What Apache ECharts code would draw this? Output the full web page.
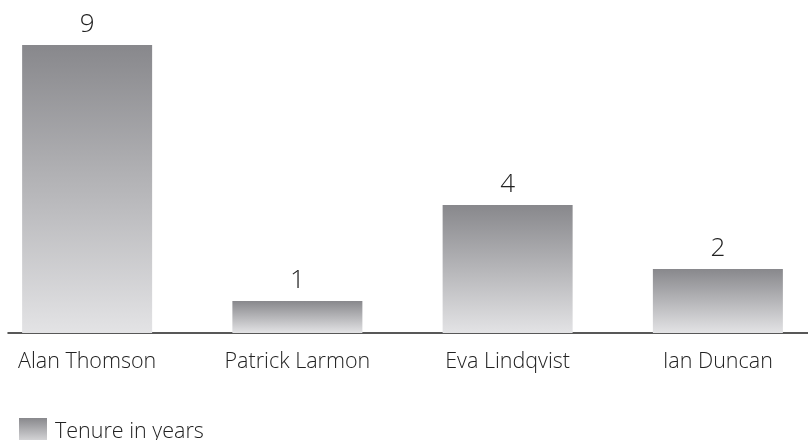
<!DOCTYPE html>
<html><head><meta charset="utf-8">
<script src="https://cdn.jsdelivr.net/npm/echarts@6/dist/echarts.min.js"></script>
<style>html,body{margin:0;padding:0;background:#fff}#c{width:808px;height:440px}</style>
</head><body><div id="c"></div>
<script>
const categories = ["Alan Thomson", "Patrick Larmon", "Eva Lindqvist", "Ian Duncan"];
const tenure = [9, 1, 4, 2];
const seriesName = "Tenure in years";

const chart = echarts.init(document.getElementById('c'), null, {renderer: 'canvas'});
const font = '"Open Sans", sans-serif';
chart.setOption({
  animation: false,
  backgroundColor: '#ffffff',
  grid: [
    {left: -18, width: 841, top: 45, bottom: 107, containLabel: false, outerBoundsMode: 'none'},
    {left: 8, right: 0, top: 45, bottom: 107, containLabel: false, outerBoundsMode: 'none'}
  ],
  legend: {
    left: 14, top: 413, itemWidth: 28, itemHeight: 27, itemGap: 10,
    icon: 'rect',
    textStyle: {fontFamily: font, fontSize: 21.5, fontWeight: 300, color: '#222', padding: [0,0,0,3]},
    data: [seriesName]
  },
  xAxis: [
    {type: 'category', gridIndex: 0, data: categories,
     axisLine: {show: false}, axisTick: {show: false},
     axisLabel: {margin: 18, fontFamily: font, fontSize: 21.5, fontWeight: 300, color: '#222'}},
    {type: 'value', gridIndex: 1, min: 0, max: 1, show: true,
     axisLine: {show: true, lineStyle: {color: '#222', width: 1.5}},
     axisTick: {show: false}, axisLabel: {show: false}, splitLine: {show: false}}
  ],
  yAxis: [
    {type: 'value', gridIndex: 0, min: 0, max: 9, show: false, splitLine: {show: false}},
    {type: 'value', gridIndex: 1, min: 0, max: 1, show: false}
  ],
  series: [{
    name: seriesName, type: 'bar', xAxisIndex: 0, yAxisIndex: 0,
    data: tenure, barWidth: 130,
    itemStyle: {
      color: new echarts.graphic.LinearGradient(0, 0, 0, 1, [
        {offset: 0, color: '#88888c'},
        {offset: 1, color: '#e3e3e5'}
      ])
    },
    label: {show: true, position: 'top', distance: 7, fontFamily: font, fontSize: 26, fontWeight: 300, color: '#222'}
  }]
});
</script></body></html>
